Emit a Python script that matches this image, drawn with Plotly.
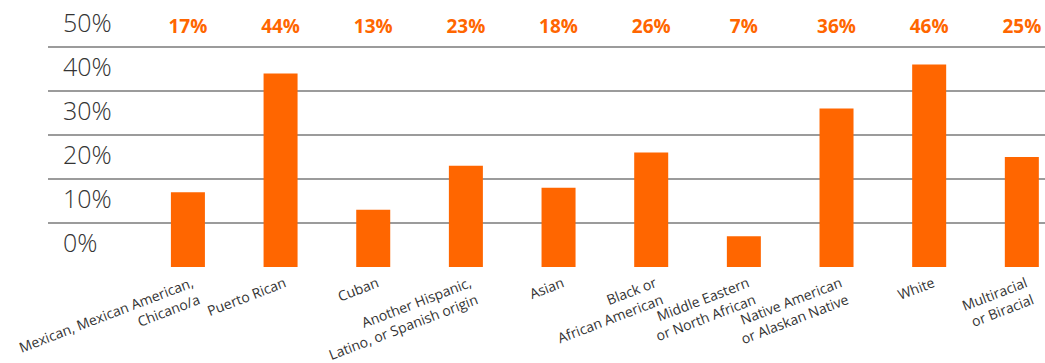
import plotly.graph_objects as go

categories = [
    "Mexican, Mexican American,<br>Chicano/a",
    "Puerto Rican",
    "Cuban",
    "Another Hispanic,<br>Latino, or Spanish origin",
    "Asian",
    "Black or<br>African American",
    "Middle Eastern<br>or North African",
    "Native American<br>or Alaskan Native",
    "White",
    "Multiracial<br>or Biracial",
]
values = [17, 44, 13, 23, 18, 26, 7, 36, 46, 25]
y_tick_vals = [0, 10, 20, 30, 40, 50]
y_tick_text = ["0%", "10%", "20%", "30%", "40%", "50%"]
value_labels = [f"{v}%" for v in values]

ORANGE = "#FF6600"
GRID = "#9b9b9b"
TEXT = "#333333"
FONT = "Open Sans"
LABEL_ROW_Y = 54.3

fig = go.Figure()
fig.add_trace(go.Bar(
    x=categories, y=values, marker=dict(color=ORANGE, line=dict(width=0)),
    width=0.367, hoverinfo="skip",
))
fig.add_trace(go.Scatter(
    x=categories, y=[LABEL_ROW_Y] * len(categories), mode="text",
    text=value_labels, textposition="middle center",
    textfont=dict(family=FONT, size=19, color=ORANGE, weight=700),
    hoverinfo="skip", cliponaxis=False,
))

fig.update_layout(
    width=1045, height=363,
    margin=dict(l=48, r=0, t=0, b=96),
    paper_bgcolor="white", plot_bgcolor="white",
    showlegend=False,
    font=dict(family=FONT, color=TEXT),
    xaxis=dict(
        type="category", range=[-1.51, 9.25], automargin=False,
        showgrid=False, zeroline=False, showline=False, ticks="",
        tickangle=-21, ticklabelstandoff=5, ticklabelshift=4,
        tickfont=dict(family=FONT, size=14, color=TEXT),
    ),
    yaxis=dict(
        range=[0, 60.68], tickvals=y_tick_vals, ticktext=y_tick_text,
        automargin=False,
        showgrid=True, gridcolor=GRID, gridwidth=2,
        zeroline=False, showline=False, ticks="",
        ticklabelposition="inside", ticklabelshift=-24, ticklabelstandoff=12,
        tickfont=dict(family=FONT, size=25, color=TEXT, weight=300),
    ),
)

fig.write_html("out.html")
